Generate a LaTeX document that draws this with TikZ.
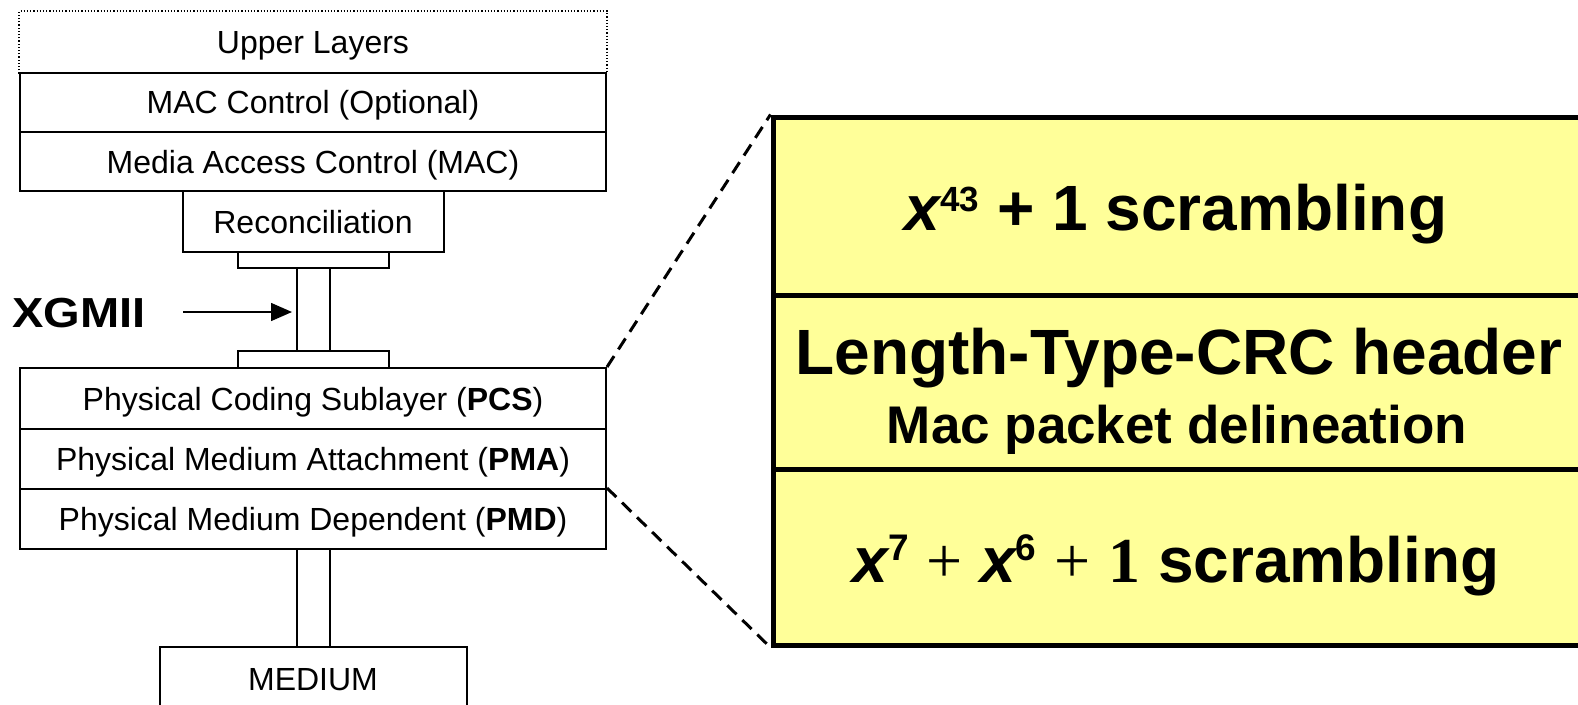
\documentclass[tikz,border=0pt]{standalone}
\usepackage{fontspec}
\setmainfont{Liberation Sans}
\newfontfamily\timesfont{Liberation Serif}
\usetikzlibrary{arrows.meta}
\definecolor{panelyellow}{HTML}{FFFF99}

\begin{document}
\begin{tikzpicture}[x=1pt,y=-1pt,
  layer/.style={draw, line width=2pt, inner sep=0pt,
    text height=23pt, text depth=0pt,
    font=\fontsize{32}{38}\selectfont},
  widelayer/.style={layer, minimum width=586pt},
  plate/.style={draw, line width=2pt, inner sep=0pt,
    minimum width=151pt},
  bus/.style={line width=2pt},
  panel/.style={draw, line width=5pt, fill=panelyellow, inner sep=0pt,
    minimum width=808pt},
  bigtext/.style={anchor=base, inner sep=0pt,
    font=\fontsize{64}{70}\selectfont\bfseries},
  midtext/.style={anchor=base, inner sep=0pt,
    font=\fontsize{53}{60}\selectfont\bfseries},
  zoomline/.style={line width=3pt, dash pattern=on 13pt off 8pt},
]
\useasboundingbox (0,0) rectangle (1578,704);

% ---- protocol stack ----
\node[widelayer, draw=none, minimum height=60.5pt] (upper) at (313,42.25) {Upper Layers};
\draw[line width=1.2pt, dotted] (upper.south west) -- (upper.north west)
  -- (upper.north east) -- (upper.south east);
\node[widelayer, minimum height=59.5pt] (macctl) at (313,102.25) {MAC Control (Optional)};
\node[widelayer, minimum height=59pt] (mac) at (313,161.5) {Media Access Control (MAC)};
\node[layer, minimum width=261pt, minimum height=61pt] (recon) at (313,221.5) {Reconciliation};
\node[plate, minimum height=16pt] (platea) at (313,260) {};
\node[plate, minimum height=17pt] (plateb) at (313,359.5) {};
\node[widelayer, minimum height=61pt] (pcs) at (313,398.5) {Physical Coding Sublayer (\textbf{PCS})};
\node[widelayer, minimum height=60pt] (pma) at (313,459) {Physical Medium Attachment (\textbf{PMA})};
\node[widelayer, minimum height=60pt] (pmd) at (313,519) {Physical Medium Dependent (\textbf{PMD})};
\node[layer, minimum width=307pt, minimum height=64pt] (medium) at (313,679) {MEDIUM};

% XGMII bus between the reconciliation plates
\draw[bus] ([xshift=-16.5pt]platea.south) -- ([xshift=-16.5pt]plateb.north);
\draw[bus] ([xshift=16.5pt]platea.south) -- ([xshift=16.5pt]plateb.north);
% link from PMD down to the medium
\draw[bus] ([xshift=-16.5pt]pmd.south) -- ([xshift=-16.5pt]medium.north);
\draw[bus] ([xshift=16.5pt]pmd.south) -- ([xshift=16.5pt]medium.north);

% XGMII label and pointer
\node[anchor=base west, inner sep=0pt, font=\fontsize{42}{48}\selectfont\bfseries]
  (xgmii) at (12,327) {\scalebox{1.12}[1]{XGMII}};
\coordinate (xgstart) at (183,312);
\coordinate (xgtip) at (292,312);
\draw[line width=1.5pt, -{Triangle[length=21pt,width=18pt]}] (xgstart) -- (xgtip);

% ---- PCS detail panel ----
\node[panel, minimum height=178pt] (secA) at (1177,206) {};
\node[panel, minimum height=174pt] (secB) at (1177,382) {};
\node[panel, minimum height=176pt] (secC) at (1177,557) {};

\node[bigtext] (scrA) at (1176,230)
  {\itshape x\upshape\raisebox{19pt}{\fontsize{35}{35}\selectfont 43} + 1 scrambling};
\node[bigtext] (lth) at (1179,374) {Length-Type-CRC header};
\node[midtext] (delin) at (1177,443) {Mac packet delineation};
\node[bigtext] (scrC) at (1176,582)
  {\itshape x\upshape\raisebox{22pt}{\fontsize{37}{37}\selectfont 7}
   {\timesfont\mdseries +}
   \itshape x\upshape\raisebox{22pt}{\fontsize{37}{37}\selectfont 6}
   {\timesfont\mdseries +}
   {\timesfont\bfseries 1} scrambling};

% zoom lines from the PCS/PMA part of the stack to the panel
\draw[zoomline] (pcs.north east) -- (secA.north west);
\draw[zoomline] (pmd.north east) -- (secC.south west);
\end{tikzpicture}
\end{document}
